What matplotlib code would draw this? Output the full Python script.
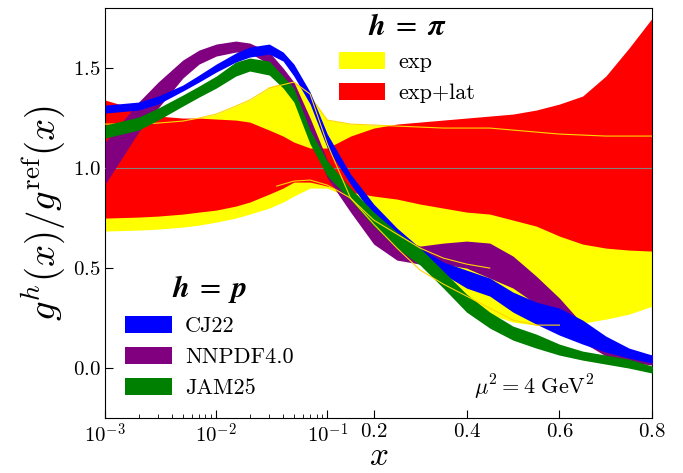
import numpy as np
import matplotlib
matplotlib.use("Agg")
import matplotlib.pyplot as plt
from matplotlib.font_manager import FontProperties

plt.rcParams['font.family'] = 'serif'
plt.rcParams['font.serif'] = ['cmr10', 'DejaVu Serif']
plt.rcParams['mathtext.fontset'] = 'cm'
plt.rcParams['axes.unicode_minus'] = False

# ---- data ----
x = [1e-3, 2e-3, 3e-3, 5e-3, 7e-3, 1e-2, 1.5e-2, 2e-2, 3e-2, 4e-2, 5e-2, 7e-2,
     0.1, 0.15, 0.2, 0.25, 0.3, 0.35, 0.4, 0.45, 0.5, 0.55, 0.6, 0.65,
     0.7, 0.75, 0.8]

# pion, experimental only
exp_lo = [0.685, 0.69, 0.695, 0.705, 0.715, 0.73, 0.75, 0.77, 0.80, 0.83, 0.86, 0.90,
          0.90, 0.85, 0.75, 0.65, 0.55, 0.42, 0.34, 0.27, 0.23, 0.215, 0.215,
          0.225, 0.245, 0.27, 0.31]
exp_hi = [1.22, 1.22, 1.225, 1.235, 1.25, 1.27, 1.31, 1.34, 1.40, 1.42, 1.43, 1.36,
          1.24, 1.22, 1.215, 1.21, 1.205, 1.20, 1.20, 1.20, 1.19, 1.18, 1.17,
          1.165, 1.16, 1.16, 1.16]

# pion, experimental + lattice
lat_lo = [0.75, 0.755, 0.76, 0.77, 0.78, 0.79, 0.81, 0.83, 0.87, 0.90, 0.93, 0.93,
          0.91, 0.88, 0.86, 0.845, 0.82, 0.80, 0.78, 0.77, 0.74, 0.71, 0.66,
          0.62, 0.60, 0.59, 0.585]
lat_hi = [1.34, 1.29, 1.26, 1.25, 1.25, 1.245, 1.24, 1.23, 1.19, 1.16, 1.13, 1.10,
          1.10, 1.16, 1.20, 1.22, 1.23, 1.24, 1.25, 1.26, 1.27, 1.29, 1.32,
          1.36, 1.46, 1.60, 1.75]

# proton PDFs
cj_lo = [1.275, 1.29, 1.32, 1.385, 1.43, 1.48, 1.53, 1.555, 1.57, 1.535, 1.46, 1.32,
         1.10, 0.92, 0.76, 0.64, 0.55, 0.47, 0.40, 0.36, 0.28, 0.22, 0.165,
         0.12, 0.08, 0.05, 0.025]
cj_hi = [1.315, 1.33, 1.36, 1.415, 1.465, 1.52, 1.575, 1.605, 1.62, 1.58, 1.52, 1.38,
         1.17, 0.97, 0.82, 0.70, 0.60, 0.53, 0.49, 0.45, 0.38, 0.33, 0.30,
         0.24, 0.16, 0.10, 0.065]

nn_lo = [0.92, 1.18, 1.30, 1.45, 1.52, 1.56, 1.58, 1.575, 1.52, 1.44, 1.36, 1.17,
         0.95, 0.78, 0.62, 0.54, 0.52, 0.52, 0.50, 0.45, 0.40, 0.32, 0.22,
         0.13, 0.06, 0.03, 0.015]
nn_hi = [1.13, 1.33, 1.43, 1.54, 1.59, 1.62, 1.635, 1.625, 1.58, 1.50, 1.43, 1.25,
         1.04, 0.86, 0.72, 0.65, 0.61, 0.625, 0.635, 0.625, 0.56, 0.46, 0.35,
         0.22, 0.13, 0.08, 0.065]

jam_lo = [1.15, 1.19, 1.24, 1.31, 1.355, 1.40, 1.46, 1.485, 1.465, 1.40, 1.33, 1.12,
          0.96, 0.84, 0.71, 0.60, 0.515, 0.40, 0.28, 0.20, 0.14, 0.10, 0.065,
          0.04, 0.02, 0.0, -0.025]
jam_hi = [1.215, 1.255, 1.30, 1.365, 1.41, 1.46, 1.53, 1.55, 1.535, 1.46, 1.40, 1.19,
          1.035, 0.90, 0.78, 0.68, 0.60, 0.485, 0.37, 0.28, 0.21, 0.17, 0.12,
          0.085, 0.065, 0.045, 0.01]

# thin exp lines crossing the plot
l1_x = [0.03, 0.05, 0.07, 0.1, 0.15, 0.2, 0.25, 0.3, 0.35, 0.4, 0.45, 0.5, 0.55, 0.6]
l1_y = [1.40, 1.43, 1.37, 1.12, 0.85, 0.72, 0.60, 0.49, 0.42, 0.36, 0.30, 0.24, 0.215, 0.215]
l2_x = [0.035, 0.05, 0.07, 0.1, 0.12, 0.15, 0.2, 0.3, 0.35, 0.4, 0.45]
l2_y = [0.91, 0.935, 0.94, 0.915, 0.89, 0.85, 0.74, 0.60, 0.55, 0.52, 0.50]

xticks = [1e-3, 1e-2, 1e-1, 0.2, 0.4, 0.6, 0.8]
xticklabels = [r'$10^{-3}$', r'$10^{-2}$', r'$10^{-1}$', r'$0.2$', r'$0.4$', r'$0.6$', r'$0.8$']
yticks = [0.0, 0.5, 1.0, 1.5]
yticklabels = [r'$0.0$', r'$0.5$', r'$1.0$', r'$1.5$']

# ---- mixed log / linear x axis ----
K = 4.18


def fwd(v):
    v = np.asarray(v, dtype=float)
    vl = np.log10(np.clip(v, 1e-12, None))
    return np.where(v < 0.1, vl, -1.0 + (v - 0.1) * K)


def inv(u):
    u = np.asarray(u, dtype=float)
    return np.where(u < -1.0, 10.0 ** np.clip(u, -12, 5), 0.1 + (u + 1.0) / K)


fig = plt.figure(figsize=(6.83, 4.73), dpi=100)
ax = fig.add_axes([0.154, 0.116, 0.801, 0.867])
ax.set_xscale('function', functions=(fwd, inv))

ax.fill_between(x, exp_lo, exp_hi, color='yellow', lw=0, zorder=1, label='exp')
ax.fill_between(x, lat_lo, lat_hi, color='red', lw=0, zorder=2, label='exp+lat')
ax.plot(x, exp_hi, color='gold', lw=0.8, zorder=3)
ax.axhline(1.0, color='grey', lw=0.8, zorder=3)

h_nn = ax.fill_between(x, nn_lo, nn_hi, color='purple', lw=0, zorder=4)
h_cj = ax.fill_between(x, cj_lo, cj_hi, color='blue', lw=0, zorder=5)
h_jam = ax.fill_between(x, jam_lo, jam_hi, color='green', lw=0, zorder=6)
ax.plot(l1_x, l1_y, color='gold', lw=0.8, zorder=7)
ax.plot(l2_x, l2_y, color='gold', lw=0.8, zorder=7)

ax.set_xlim(1e-3, 0.8)
ax.set_ylim(-0.25, 1.8)
ax.set_xticks(xticks)
ax.set_xticklabels(xticklabels)
minor = [m * d for d in (1e-3, 1e-2) for m in range(2, 10)]
ax.set_xticks(minor, minor=True)
ax.set_yticks(yticks)
ax.set_yticklabels(yticklabels)
ax.tick_params(axis='both', which='major', direction='in', length=6, labelsize=15)
ax.tick_params(axis='both', which='minor', direction='in', length=3)

ax.set_xlabel(r'$x$', fontsize=24, labelpad=-4)
ax.set_ylabel(r'$g^h(x)/g^{\rm ref}(x)$', fontsize=28, labelpad=4)

ax.text(0.785, 0.075, r'$\mu^2 = 4~{\rm GeV}^2$', transform=ax.transAxes,
        fontsize=16, ha='center', va='center')

title_fp = FontProperties(size=22, math_fontfamily='stix')
handles_pi, labels_pi = ax.get_legend_handles_labels()
leg1 = ax.legend(handles_pi, labels_pi, loc='upper left', bbox_to_anchor=(0.39, 1.035),
                 frameon=False, fontsize=16, title=r'$\mathbfit{h}\;=\;\mathbfit{\pi}$',
                 title_fontproperties=title_fp, handlelength=2.1, handleheight=0.75,
                 labelspacing=0.5, handletextpad=0.6)
ax.add_artist(leg1)
ax.legend([h_cj, h_nn, h_jam], ['CJ22', 'NNPDF4.0', 'JAM25'], loc='lower left',
          bbox_to_anchor=(0.0, 0.0), frameon=False, fontsize=16,
          title=r'$\mathbfit{h}\;=\;\mathbfit{p}$', title_fontproperties=title_fp,
          handlelength=2.1, handleheight=0.75, labelspacing=0.5, handletextpad=0.6)

fig.savefig('out.png', dpi=100)
